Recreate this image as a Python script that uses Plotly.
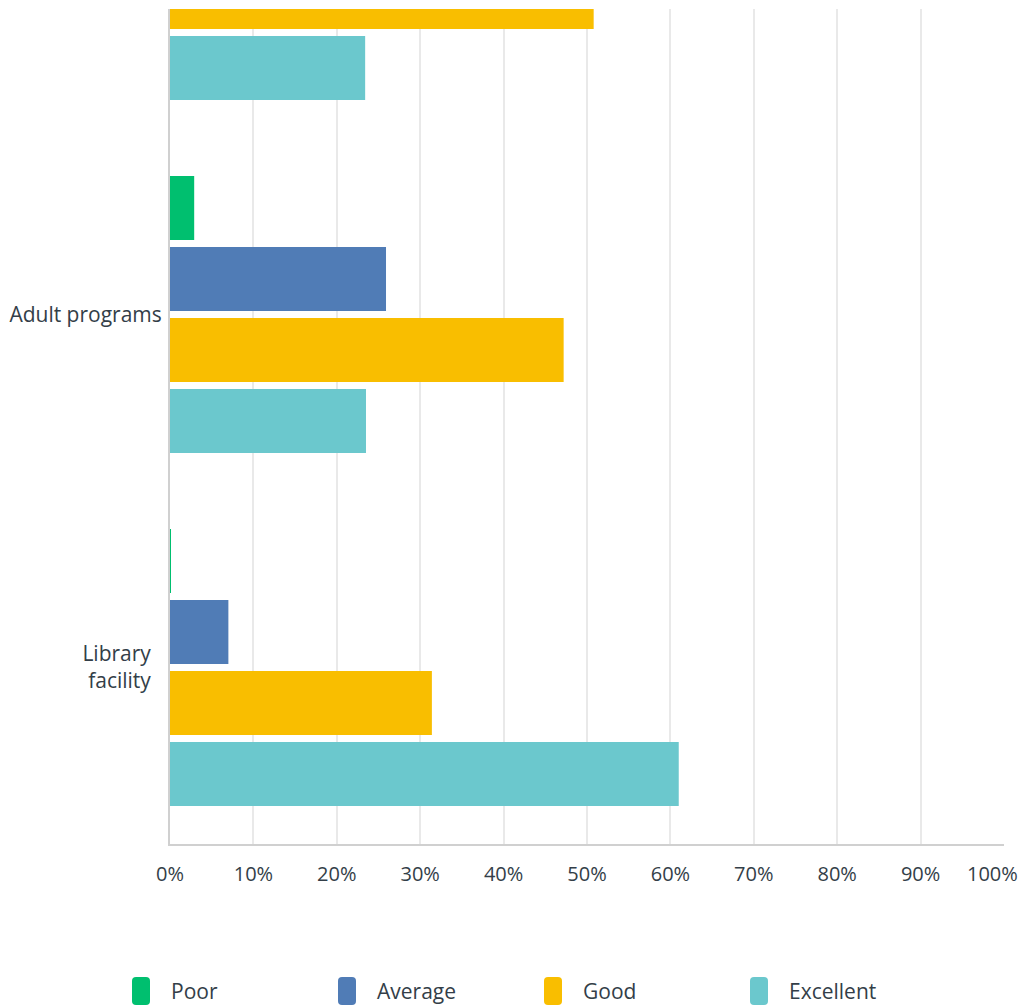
import plotly.graph_objects as go

NB = "\u00a0"

# Categories listed bottom-to-top on the y axis
categories = [f"Library{NB * 2}<br>facility{NB * 2}", "Adult programs", "Children's programs"]
ratings = ["Poor", "Average", "Good", "Excellent"]

poor = [0.12, 2.9, 2.1]
average = [7.0, 25.9, 23.6]
good = [31.4, 47.2, 50.8]
excellent = [61.0, 23.5, 23.4]

tick_values = [0, 10, 20, 30, 40, 50, 60, 70, 80, 90, 100]
tick_labels = ["0%", "10%", "20%", "30%", "40%", "50%", "60%", "70%", "80%", "90%", "100%"]

colors = {"Poor": "#00bf6f", "Average": "#507cb6", "Good": "#f9be00", "Excellent": "#6bc8cd"}
values = {"Poor": poor, "Average": average, "Good": good, "Excellent": excellent}

font_family = "Open Sans, Noto Sans, sans-serif"
text_color = "#333e48"

W, H = 1023, 1008
M_L, M_R, M_T, M_B = 170, 19, 9, 164
PLOT_W = W - M_L - M_R
PLOT_H = H - M_T - M_B

fig = go.Figure()
# Reverse trace order so Poor sits at the top of each group
for r in reversed(ratings):
    fig.add_trace(go.Bar(
        y=categories,
        x=values[r],
        name=r,
        orientation="h",
        marker=dict(color=colors[r], line=dict(width=0)),
        hovertemplate="%{x:.2f}%<extra>" + r + "</extra>",
        showlegend=False,
    ))


def px_to_paper(px, py):
    return (px - M_L) / PLOT_W, (H - M_B - py) / PLOT_H


# Legend row below the chart: rounded swatches with labels
shapes = []
annotations = []
sw_w, sw_h, rad = 18, 28, 4
for i, r in enumerate(ratings):
    left = 132 + i * 206
    top = 977
    x0, y0 = left, top
    x1, y1 = left + sw_w, top + sw_h
    pts = [
        (x0 + rad, y0), (x1 - rad, y0), (x1, y0), (x1, y0 + rad),
        (x1, y1 - rad), (x1, y1), (x1 - rad, y1), (x0 + rad, y1),
        (x0, y1), (x0, y1 - rad), (x0, y0 + rad), (x0, y0), (x0 + rad, y0),
    ]
    p = [px_to_paper(a, b) for a, b in pts]
    path = (
        f"M {p[0][0]},{p[0][1]} L {p[1][0]},{p[1][1]} Q {p[2][0]},{p[2][1]} {p[3][0]},{p[3][1]} "
        f"L {p[4][0]},{p[4][1]} Q {p[5][0]},{p[5][1]} {p[6][0]},{p[6][1]} "
        f"L {p[7][0]},{p[7][1]} Q {p[8][0]},{p[8][1]} {p[9][0]},{p[9][1]} "
        f"L {p[10][0]},{p[10][1]} Q {p[11][0]},{p[11][1]} {p[12][0]},{p[12][1]} Z"
    )
    shapes.append(dict(type="path", path=path, xref="paper", yref="paper",
                       fillcolor=colors[r], line=dict(width=0), layer="above"))
    tx, ty = px_to_paper(left + 37, top + sw_h / 2)
    annotations.append(dict(text=r, x=tx, y=ty, xref="paper", yref="paper",
                            xanchor="left", yanchor="middle", showarrow=False,
                            font=dict(size=21, color=text_color, family=font_family)))

# The last tick label is drawn right-aligned near its gridline so it stays inside the page
annotations.append(dict(text=tick_labels[-1], x=tick_values[-1], xref="x", y=0, yref="paper",
                        xanchor="right", yanchor="middle", xshift=16, yshift=-29,
                        showarrow=False,
                        font=dict(size=20, color=text_color, family=font_family)))
tick_text = tick_labels[:-1] + [""]

fig.update_layout(
    width=W,
    height=H,
    margin=dict(l=M_L, r=M_R, t=M_T, b=M_B, autoexpand=False),
    paper_bgcolor="white",
    plot_bgcolor="white",
    barmode="group",
    bargap=0.1955,
    bargroupgap=0.0986,
    showlegend=False,
    font=dict(family=font_family, color=text_color, size=20),
    shapes=shapes,
    annotations=annotations,
    xaxis=dict(
        range=[0, 100],
        tickvals=tick_values,
        ticktext=tick_text,
        showgrid=True,
        gridcolor="#e9e9e9",
        gridwidth=2,
        zeroline=False,
        showline=True,
        linecolor="#d0d0d0",
        linewidth=2,
        ticks="",
        ticklabelstandoff=11,
        tickfont=dict(size=20, color=text_color),
        fixedrange=True,
    ),
    yaxis=dict(
        range=[-0.5, 1.8654],
        showgrid=False,
        zeroline=False,
        showline=True,
        linecolor="#d0d0d0",
        linewidth=2,
        ticks="",
        ticklabelstandoff=2,
        tickfont=dict(size=21, color=text_color),
        fixedrange=True,
    ),
)

fig.write_html("out.html")
